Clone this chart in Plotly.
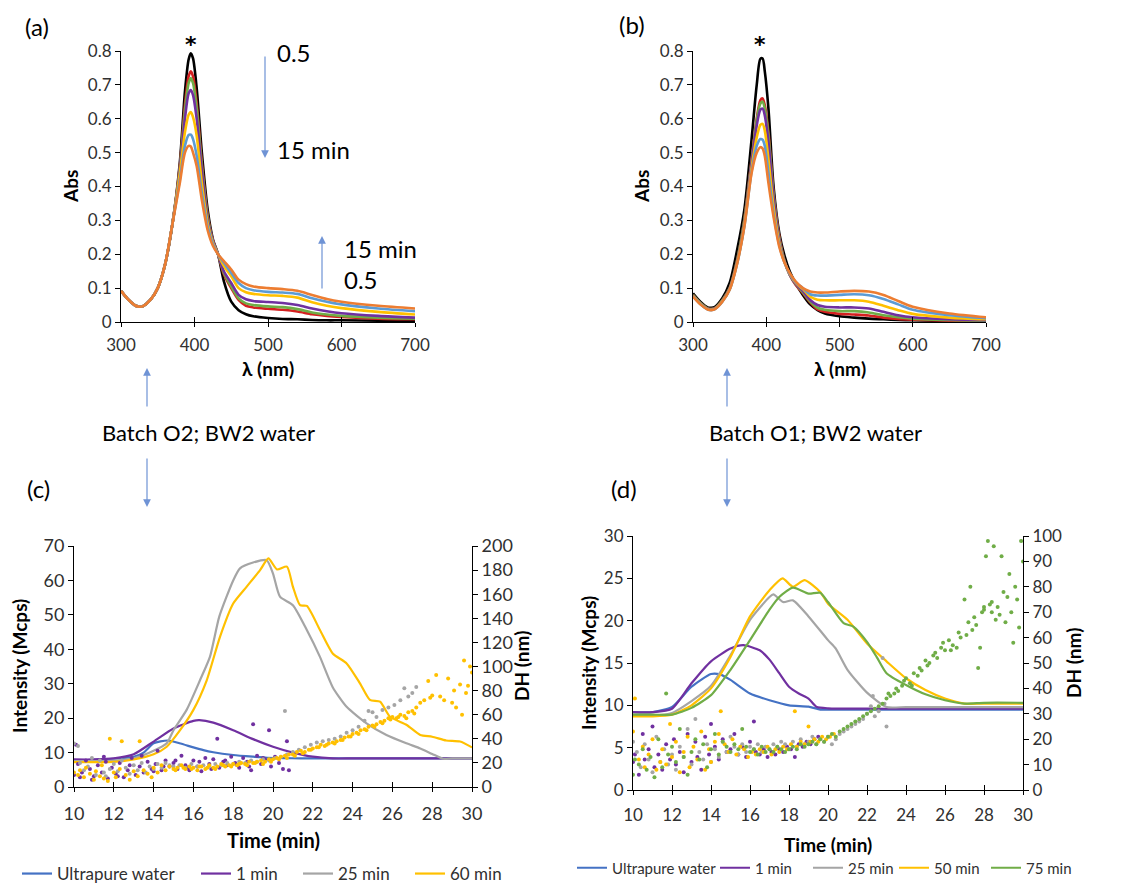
import plotly.graph_objects as go

W, H = 1129, 884
FONT = "Lato, 'Open Sans', sans-serif"

# ---------------- (a) / (b) UV-Vis spectra ----------------
wl = [300, 310, 320, 325, 330, 340, 350, 360, 370, 380, 387, 392, 395, 398, 403, 410,
      418, 425, 432, 440, 450, 460, 470, 480, 500, 520, 540, 560, 580, 600, 650, 700]

spec_colors = ["#000000", "#D42020", "#70AD47", "#7030A0", "#FFC000", "#5B9BD5", "#ED7D31"]

a_left = [.092, .066, .048, .045, .047, .065, .10, .17, .29]
abs_a = [
    a_left + [.47, .68, .775, .793, .778, .69, .50, .33, .245, .20, .12, .06,
              .035, .023, .017, .012, .009, .008, .006, .005, .005, .004, .003],
    a_left + [.46, .64, .725, .74, .725, .645, .47, .315, .24, .20, .14, .10,
              .065, .048, .043, .039, .036, .031, .023, .018, .015, .010, .008],
    a_left + [.455, .625, .705, .72, .705, .63, .46, .31, .24, .20, .145, .105,
              .07, .055, .05, .046, .044, .038, .028, .022, .018, .013, .010],
    a_left + [.45, .60, .675, .685, .67, .60, .445, .30, .24, .20, .15, .115,
              .08, .067, .062, .059, .056, .050, .040, .032, .026, .018, .013],
    a_left + [.44, .56, .612, .62, .605, .55, .41, .29, .235, .20, .165, .135,
              .10, .088, .083, .079, .077, .072, .058, .048, .041, .030, .022],
    a_left + [.42, .52, .552, .553, .54, .49, .38, .28, .23, .20, .175, .145,
              .115, .10, .094, .089, .087, .083, .070, .060, .052, .040, .032],
    a_left + [.41, .50, .52, .518, .50, .46, .36, .27, .225, .20, .18, .155,
              .125, .112, .105, .100, .097, .092, .080, .068, .060, .048, .040],
]

abs_b = [
    [.085, .06, .043, .042, .045, .07, .115, .21, .33, .54, .70, .777, .778, .74, .63, .40,
     .26, .195, .15, .115, .08, .052, .035, .025, .017, .013, .010, .008, .006, .005, .003, .002],
    [.08, .056, .04, .038, .041, .064, .10, .18, .30, .48, .60, .655, .66, .64, .56, .38,
     .25, .18, .14, .11, .085, .058, .037, .03, .024, .022, .019, .013, .009, .007, .004, .003],
    [.08, .056, .04, .038, .041, .064, .10, .18, .30, .475, .595, .645, .65, .63, .55, .375,
     .245, .18, .14, .112, .088, .06, .042, .036, .032, .032, .028, .02, .014, .010, .006, .004],
    [.078, .055, .039, .037, .04, .062, .098, .175, .29, .47, .58, .627, .63, .61, .53, .365,
     .24, .178, .14, .113, .092, .065, .05, .045, .043, .043, .040, .030, .02, .014, .008, .005],
    [.077, .054, .038, .036, .039, .061, .096, .172, .285, .455, .545, .582, .585, .565, .48, .34,
     .232, .176, .142, .116, .097, .075, .066, .064, .064, .064, .06, .048, .035, .024, .013, .008],
    [.076, .053, .037, .035, .038, .06, .095, .17, .28, .445, .52, .54, .538, .52, .44, .32,
     .225, .175, .143, .118, .10, .082, .078, .078, .080, .082, .079, .068, .052, .036, .02, .011],
    [.075, .052, .037, .035, .038, .06, .095, .17, .28, .44, .50, .516, .512, .49, .41, .31,
     .22, .175, .145, .12, .10, .09, .087, .087, .09, .092, .09, .08, .062, .045, .025, .014],
]

# ---------------- (c) AF4 intensity (lines) ----------------
c_names = ["Ultrapure water", "1 min", "25 min", "60 min"]
c_colors = ["#4472C4", "#7030A0", "#A5A5A5", "#FFC000"]
c_t = [
    [10, 11, 12, 13, 13.5, 14, 14.7, 15.3, 16, 16.5, 17, 18, 19, 19.7, 20.5, 21.4, 22, 24, 26, 28, 30],
    [10, 11, 12, 13, 14, 15, 16, 16.3, 17, 18, 19, 20, 21, 22, 23, 24, 26, 28, 30],
    [10, 11, 12, 13, 14, 14.66, 15, 15.66, 16.33, 16.83, 17.3, 18, 18.34, 19, 19.68, 20, 20.35, 21,
     21.7, 22.36, 23, 23.7, 24.7, 25.7, 26.7, 27.4, 28, 28.55, 29, 30],
    [10, 11, 12, 13, 14, 14.66, 15.33, 16, 16.67, 17.34, 18, 18.68, 19.35, 19.77, 20.2, 20.7, 21,
     21.36, 21.7, 22.36, 23, 23.7, 24.37, 24.87, 25.38, 25.88, 26.72, 27.4, 28, 28.7, 29.4, 30],
]
c_int = [
    [7.8, 7.9, 8.2, 8.8, 10, 12.7, 13.5, 12.7, 11.5, 10.7, 10.1, 9.3, 8.8, 8.5, 8.4, 8.3, 8.3, 8.3, 8.3, 8.3, 8.3],
    [8.0, 8.0, 8.3, 9.5, 13.2, 17, 19.2, 19.4, 18.7, 16.5, 13.9, 11.7, 10, 8.8, 8.3, 8.3, 8.3, 8.3, 8.3],
    [7.5, 7.5, 7.6, 8.3, 10.5, 12.7, 16.5, 22.4, 31, 37.8, 49.5, 60, 63.5, 65.2, 65.9, 62, 55.3, 52.8,
     45.6, 37.8, 29, 23.3, 18.5, 15.1, 12.7, 11.2, 9.6, 8.2, 8.3, 8.3],
    [7.2, 7.2, 7.3, 8, 9.5, 11.7, 16.5, 22.4, 31, 43.7, 53.3, 58.2, 63, 66.4, 63.2, 64, 58.2,
     52.8, 52.6, 45.6, 38.8, 35.9, 30.1, 25.3, 24.8, 20.4, 18, 15.1, 14.6, 13.5, 13.2, 11.5],
]

# (c) DH scatter (nm)
c_dh_purple_t = [10.0, 10.1, 10.3, 10.4, 10.6, 10.8, 11.0, 11.2, 11.4, 11.5, 11.7, 11.9, 12.1, 12.3, 12.5, 12.7,
                 12.9, 13.1, 13.3, 13.5, 13.7, 13.9, 14.1, 14.2, 14.4, 14.6, 14.8, 15.0, 15.2, 15.4, 15.6, 15.8,
                 16.0, 16.2, 16.4, 16.6, 16.8, 17.0, 17.2, 17.3, 17.5, 17.7, 17.9, 18.1, 18.3, 18.5, 18.7, 18.9,
                 19.0, 19.2, 19.4, 19.6, 19.8, 19.9, 20.1, 20.3, 20.5, 20.7, 20.8,
                 10.2, 10.9, 11.6, 12.2, 12.8, 13.4, 14.0, 14.5, 15.1, 15.7, 16.3, 16.9, 17.6, 18.2, 18.8, 19.5]
c_dh_purple = [10, 35, 8, 12, 22, 15, 9, 18, 12, 25, 7, 16, 11, 20, 8, 14,
               24, 10, 17, 12, 21, 15, 19, 30, 14, 22, 17, 20, 15, 26, 18, 14,
               22, 17, 13, 24, 19, 23, 40, 16, 21, 18, 25, 20, 16, 24, 21, 14,
               52, 26, 19, 23, 47, 17, 25, 20, 15, 38, 14,
               19, 6, 21, 9, 18, 26, 13, 17, 22, 16, 21, 15, 22, 18, 17, 24]
c_dh_gray_t = [10.0, 10.2, 10.3, 10.5, 10.7, 10.9, 11.1, 11.3, 11.5, 11.6, 11.8, 12.0, 12.2, 12.4, 12.6, 12.8,
               13.0, 13.2, 13.4, 13.6, 13.8, 14.0, 14.2, 14.4, 14.6, 14.8, 15.0, 15.3, 15.6, 15.9, 16.2, 16.5,
               16.8, 17.1, 17.4, 17.7, 18.0, 18.3, 18.6, 18.9, 19.2, 19.5, 19.8, 20.1, 20.4, 20.6, 20.7, 21.0,
               21.3, 21.6, 21.9, 22.2, 22.5, 22.8, 23.1, 23.4, 23.7, 24.0, 24.3, 24.6, 24.8, 25.0, 25.2, 25.5,
               25.8, 26.1, 26.4, 26.6, 26.8, 27.0, 27.2]
c_dh_gray = [36, 34, 20, 14, 17, 24, 10, 22, 12, 9, 15, 19, 13, 22, 16, 11,
             18, 14, 20, 12, 17, 15, 19, 16, 20, 18, 17, 18, 16, 19, 17, 18,
             17, 19, 18, 20, 19, 21, 20, 22, 21, 23, 22, 24, 25, 63, 27, 29,
             31, 33, 35, 37, 38, 39, 40, 42, 45, 47, 50, 55, 63, 62, 58, 64,
             66, 68, 72, 82, 75, 78, 83]
c_dh_gold_t = [10.0, 10.2, 10.3, 10.5, 10.6, 10.8, 11.0, 11.1, 11.3, 11.4, 11.5, 11.7, 11.8, 12.0, 12.1, 12.3,
               12.4, 12.6, 12.8, 13.0, 13.2, 13.3, 13.5, 13.7, 13.9, 14.0, 14.2, 14.4, 14.6, 14.8, 15.0, 15.2,
               15.4, 15.6, 15.8, 16.0, 16.2, 16.4, 16.6, 16.8, 17.0, 17.2, 17.4, 17.6, 17.8, 18.0, 18.2, 18.4,
               18.6, 18.8, 19.0, 19.2, 19.4, 19.6, 19.8, 20.0, 20.2, 20.4, 20.6, 20.8, 21.0, 21.2, 21.4, 21.6,
               21.8, 22.0, 22.2, 22.4, 22.6, 22.8, 23.0, 23.2, 23.4, 23.6, 23.8, 24.0, 24.2, 24.4, 24.6, 24.8,
               25.0, 25.2, 25.4, 25.6, 25.8, 26.0, 26.2, 26.4, 26.6, 26.8, 27.0, 27.2, 27.4, 27.6, 27.8, 27.9,
               28.0, 28.2, 28.4, 28.6, 28.8, 29.0, 29.1, 29.2, 29.4, 29.5, 29.6, 29.7, 29.8, 29.9, 30.0,
               15.1, 15.5, 15.9, 16.3, 16.7, 17.1, 17.5, 17.9, 18.3, 18.7, 19.1, 19.5, 19.9, 20.3, 20.7, 21.1,
               21.5, 21.9, 22.3, 22.7, 23.1, 23.5, 23.9, 24.3, 24.7, 25.1, 25.5, 25.9, 26.3, 26.7, 27.1]
c_dh_gold = [12, 10, 14, 8, 16, 11, 6, 13, 9, 18, 7, 5, 40, 12, 8, 15,
             38, 10, 6, 13, 9, 38, 14, 11, 8, 16, 12, 18, 14, 17, 15, 16,
             18, 15, 17, 16, 14, 17, 15, 18, 16, 17, 19, 17, 18, 19, 18, 20,
             19, 21, 20, 21, 22, 21, 23, 23, 24, 25, 26, 27, 27, 29, 30, 29,
             31, 32, 33, 35, 34, 36, 37, 38, 39, 41, 42, 44, 45, 47, 48, 50,
             51, 52, 54, 55, 57, 58, 57, 60, 59, 62, 63, 66, 70, 72, 88, 74,
             76, 93, 75, 72, 90, 70, 80, 66, 85, 60, 105, 78, 84, 100, 95,
             14, 16, 15, 17, 16, 15, 18, 17, 19, 18, 20, 19, 21, 23, 24, 26,
             28, 31, 33, 35, 36, 39, 42, 44, 47, 50, 53, 56, 58, 57, 61]

# ---------------- (d) AF4 intensity (lines) ----------------
d_names = ["Ultrapure water", "1 min", "25 min", "50 min", "75 min"]
d_colors = ["#4472C4", "#7030A0", "#A5A5A5", "#FFC000", "#70AD47"]
d_t = [
    [10, 11, 12, 13, 14, 14.46, 15, 16, 17, 18, 19, 19.6, 20, 22, 24, 26, 28, 30],
    [10, 11, 12, 13, 14, 15, 15.66, 16.5, 17, 17.5, 18, 18.5, 19, 19.4, 20, 22, 24, 26, 28, 30],
    [10, 11, 12, 13, 14, 15, 16, 17, 17.2, 17.7, 18.2, 19, 20, 20.4, 21, 22, 23, 24, 26, 28, 30],
    [10, 11, 12, 13, 14, 15, 16, 17, 17.67, 18.2, 18.8, 19.6, 20, 21, 22, 23, 24, 25, 26, 27, 28, 30],
    [10, 11, 12, 13, 14, 15, 16, 17, 17.5, 18.2, 19, 19.6, 20, 20.8, 21.3, 22, 22.5, 23, 24, 25, 26, 27, 28, 30],
]
d_int = [
    [9.2, 9.2, 9.8, 12.2, 13.7, 13.66, 13, 11.4, 10.6, 10.0, 9.84, 9.5, 9.5, 9.5, 9.5, 9.5, 9.5, 9.5],
    [9.2, 9.2, 9.6, 12.6, 15.2, 16.7, 17.1, 16.5, 15.4, 13.8, 12.2, 11.4, 10.8, 9.84, 9.65, 9.6, 9.6, 9.6, 9.6, 9.6],
    [8.8, 8.8, 9.1, 10.5, 12.3, 15.9, 20.1, 22.8, 23.1, 22.2, 22.4, 20.5, 17.7, 16.7, 14.2, 11.5, 9.8, 9.8, 9.8, 9.8, 9.8],
    [8.7, 8.7, 8.9, 10, 12, 15.7, 20.5, 23.6, 25, 24, 24.8, 23.4, 22, 20.1, 17.3, 15.2, 13.2, 11.8, 10.8, 10.2, 10.2, 10.2],
    [8.9, 8.9, 8.9, 9.7, 11.2, 14.2, 17.7, 21.3, 22.8, 23.9, 23.2, 23.3, 22.2, 19.7, 19.3, 17.5, 15.7, 13.8,
     12.4, 11.3, 10.6, 10.2, 10.3, 10.3],
]

# (d) DH scatter (nm)
d_dh_purple_t = [10.0, 10.1, 10.3, 10.5, 10.6, 10.8, 11.0, 11.1, 11.3, 11.5, 11.7, 11.9, 12.1, 12.2, 12.4, 12.6,
                 12.8, 13.0, 13.2, 13.3, 13.5, 13.7, 13.9, 14.0, 14.2, 14.4, 14.6, 14.8, 15.0, 15.2, 15.4, 15.6,
                 15.8, 16.0, 16.2, 16.3, 16.5, 16.7, 16.9, 17.1, 17.3, 17.5, 17.7, 17.9, 18.1, 18.3, 18.5, 18.7,
                 18.9, 19.1, 19.3, 19.5]
d_dh_purple = [11, 14, 6, 22, 12, 16, 25, 9, 14, 8, 18, 12, 20, 10, 15, 7,
               22, 11, 19, 13, 8, 21, 14, 26, 17, 12, 20, 15, 16, 22, 14, 17,
               13, 19, 27, 15, 14, 16, 13, 15, 14, 16, 15, 17, 16, 13, 18, 17,
               19, 18, 20, 21]
d_dh_gray_t = [10.0, 10.2, 10.4, 10.6, 10.8, 11.0, 11.2, 11.4, 11.6, 11.8, 12.0, 12.2, 12.4, 12.6, 12.8, 13.0,
               13.2, 13.4, 13.6, 13.8, 14.0, 14.2, 14.4, 14.6, 14.8, 15.0, 15.2, 15.4, 15.6, 15.8, 16.0, 16.2,
               16.4, 16.6, 16.8, 17.0, 17.2, 17.4, 17.6, 17.8, 18.0, 18.2, 18.4, 18.6, 18.8, 19.0, 19.2, 19.4,
               19.6, 19.8, 20.0, 20.2, 20.4, 20.6, 20.8, 21.0, 21.2, 21.4, 21.6, 21.8, 22.0, 22.2, 22.3, 22.4,
               22.6, 22.8, 22.9, 23.0]
d_dh_gray = [19, 15, 9, 18, 12, 7, 21, 11, 16, 10, 14, 8, 17, 13, 24, 10,
             28, 15, 12, 18, 11, 16, 13, 19, 15, 21, 17, 14, 18, 15, 17, 16,
             18, 15, 17, 16, 18, 17, 19, 18, 16, 19, 17, 20, 18, 19, 21, 18,
             20, 19, 21, 18, 20, 22, 23, 24, 25, 26, 27, 28, 30, 33, 37, 29,
             31, 52, 34, 25]
d_dh_gold_t = [10.0, 10.1, 10.3, 10.5, 10.6, 10.8, 11.0, 11.2, 11.4, 11.5, 11.7, 11.9, 12.0, 12.2, 12.4, 12.6,
               12.8, 12.9, 13.1, 13.3, 13.5, 13.7, 13.9, 14.0, 14.2, 14.4, 14.5, 14.7, 14.9, 15.1, 15.3, 15.5,
               15.7, 15.9, 16.1, 16.3, 16.5, 16.7, 16.9, 17.1, 17.3, 17.5, 17.7, 17.9, 18.1, 18.3, 18.4, 18.6,
               18.8, 19.0, 19.1, 19.3, 19.5, 19.7, 19.9, 20.1, 20.3]
d_dh_gold = [23, 36, 12, 17, 9, 14, 20, 8, 11, 16, 10, 26, 13, 19, 7, 15,
             21, 9, 17, 12, 23, 8, 16, 11, 19, 22, 31, 18, 15, 20, 14, 17,
             16, 13, 15, 14, 16, 15, 17, 14, 16, 15, 17, 16, 18, 31, 17, 19,
             18, 25, 19, 20, 19, 21, 20, 21, 22]
d_dh_green_t = [10.0, 10.1, 10.3, 10.5, 10.7, 10.9, 11.1, 11.3, 11.5, 11.7, 11.8, 12.0, 12.2, 12.4, 12.6, 12.8,
                13.0, 13.2, 13.4, 13.6, 13.8, 14.0, 14.2, 14.4, 14.6, 14.8, 15.0, 15.2, 15.4, 15.6, 15.8, 16.0,
                16.2, 16.4, 16.6, 16.8, 17.0, 17.2, 17.4, 17.6, 17.8, 18.0, 18.2, 18.4, 18.6, 18.8, 19.0, 19.2,
                19.4, 19.6, 19.8, 20.0, 20.2, 20.4, 20.6, 20.8, 21.0, 21.2, 21.4, 21.6, 21.8, 22.0, 22.2, 22.4,
                22.6, 22.8, 23.0, 23.2, 23.4, 23.6, 23.8, 24.0, 24.2, 24.4, 24.6, 24.8, 25.0, 25.2, 25.4, 25.6,
                25.8, 26.0, 26.2, 26.4, 26.6, 26.8, 27.0, 27.1, 27.3, 27.4, 27.6, 27.7, 27.8, 27.9, 28.0, 28.1,
                28.2, 28.3, 28.4, 28.5, 28.6, 28.7, 28.9, 29.0, 29.1, 29.2, 29.4, 29.5, 29.6, 29.7, 29.8, 29.9,
                30.0,
                23.1, 23.5, 23.9, 24.3, 24.7, 25.1, 25.5, 25.9, 26.3, 26.7, 27.2, 27.5, 28.0, 28.4, 28.8, 29.3]
d_dh_green = [6, 12, 10, 16, 8, 13, 5, 20, 9, 38, 14, 17, 11, 24, 13, 6,
              15, 20, 12, 18, 9, 16, 22, 14, 19, 17, 15, 18, 16, 24, 17, 15,
              16, 14, 17, 15, 16, 15, 17, 16, 15, 16, 17, 16, 18, 17, 18, 19,
              18, 20, 19, 21, 22, 21, 23, 24, 25, 26, 27, 28, 29, 30, 31, 32,
              33, 34, 36, 37, 38, 39, 41, 44, 42, 46, 45, 47, 51, 50, 53, 52,
              56, 55, 59, 57, 56, 60, 75, 61, 80, 63, 65, 48, 56, 70, 72, 92,
              98, 73, 70, 96, 67, 72, 92, 78, 66, 76, 70, 58, 80, 75, 64, 98,
              90,
              38, 40, 43, 41, 48, 49, 54, 58, 55, 62, 66, 68, 71, 74, 69, 85]

fig = go.Figure()

for i in range(7):
    fig.add_trace(go.Scatter(x=wl, y=abs_a[i], mode="lines", xaxis="x", yaxis="y", showlegend=False,
                             line=dict(color=spec_colors[i], width=2.6, shape="spline", smoothing=0.8)))
for i in range(7):
    fig.add_trace(go.Scatter(x=wl, y=abs_b[i], mode="lines", xaxis="x2", yaxis="y2", showlegend=False,
                             line=dict(color=spec_colors[i], width=2.6, shape="spline", smoothing=0.8)))

for tt, vv, col in [(c_dh_purple_t, c_dh_purple, "#7030A0"), (c_dh_gray_t, c_dh_gray, "#A5A5A5"),
                    (c_dh_gold_t, c_dh_gold, "#FFC000")]:
    fig.add_trace(go.Scatter(x=tt, y=vv, mode="markers", xaxis="x3", yaxis="y4", showlegend=False,
                             marker=dict(color=col, size=4)))
for i in range(4):
    fig.add_trace(go.Scatter(x=c_t[i], y=c_int[i], mode="lines", xaxis="x3", yaxis="y3", name=c_names[i],
                             legend="legend" if i == 0 else "legend%d" % (i + 1),
                             line=dict(color=c_colors[i], width=2.2, shape="spline", smoothing=0.6)))

for tt, vv, col in [(d_dh_purple_t, d_dh_purple, "#7030A0"), (d_dh_gray_t, d_dh_gray, "#A5A5A5"),
                    (d_dh_gold_t, d_dh_gold, "#FFC000"), (d_dh_green_t, d_dh_green, "#70AD47")]:
    fig.add_trace(go.Scatter(x=tt, y=vv, mode="markers", xaxis="x4", yaxis="y6", showlegend=False,
                             marker=dict(color=col, size=4)))
for i in range(5):
    fig.add_trace(go.Scatter(x=d_t[i], y=d_int[i], mode="lines", xaxis="x4", yaxis="y5", name=d_names[i],
                             legend="legend%d" % (i + 5),
                             line=dict(color=d_colors[i], width=2.2, shape="spline", smoothing=0.6)))


def fx(p):
    return p / W


def fy(p):
    return 1 - p / H


TICKC = "#303030"
axbase = dict(showline=True, linecolor="black", linewidth=1, ticks="outside", ticklen=5,
              tickcolor="black", showgrid=False, zeroline=False, fixedrange=True, automargin=False)
crossbase = dict(showline=False, ticks="inside", ticklen=5, tickcolor="black", showticklabels=False,
                 showgrid=False, zeroline=False, fixedrange=True, automargin=False)

layout = dict(
    width=W, height=H, margin=dict(l=0, r=0, t=0, b=0, autoexpand=False),
    paper_bgcolor="white", plot_bgcolor="white",
    font=dict(family=FONT, color=TICKC),
    xaxis=dict(axbase, domain=[fx(121), fx(415)], anchor="y", range=[300, 700], dtick=100,
               ticklen=4, tickfont=dict(size=17), ticklabelstandoff=4),
    yaxis=dict(axbase, domain=[fy(322), fy(51)], anchor="x", range=[0, 0.8], dtick=0.1,
               tickfont=dict(size=17)),
    xaxis2=dict(axbase, domain=[fx(693), fx(986)], anchor="y2", range=[300, 700], dtick=100,
                ticklen=4, tickfont=dict(size=17), ticklabelstandoff=4),
    yaxis2=dict(axbase, domain=[fy(322), fy(51)], anchor="x2", range=[0, 0.8], dtick=0.1,
                tickfont=dict(size=17)),
    xaxis3=dict(axbase, domain=[fx(74), fx(472)], anchor="y3", range=[10, 30], dtick=2,
                ticklen=4, tickfont=dict(size=18), ticklabelstandoff=6),
    yaxis3=dict(axbase, domain=[fy(787), fy(546)], anchor="x3", range=[0, 70], dtick=10,
                tickfont=dict(size=18)),
    yaxis4=dict(axbase, overlaying="y3", anchor="x3", side="right", range=[0, 200], dtick=20,
                tickfont=dict(size=18)),
    xaxis4=dict(axbase, domain=[fx(633), fx(1023)], anchor="y5", range=[10, 30], dtick=2,
                ticklen=4, tickfont=dict(size=17), ticklabelstandoff=6),
    yaxis5=dict(axbase, domain=[fy(790), fy(536)], anchor="x4", range=[0, 30], dtick=5,
                tickfont=dict(size=17)),
    yaxis6=dict(axbase, overlaying="y5", anchor="x4", side="right", range=[0, 100], dtick=10,
                tickfont=dict(size=17)),
    # overlay axes that draw the inner half of Excel-style crossing tick marks
    xaxis5=dict(crossbase, overlaying="x", anchor="y", range=[300, 700], dtick=100),
    xaxis6=dict(crossbase, overlaying="x2", anchor="y2", range=[300, 700], dtick=100),
    xaxis7=dict(crossbase, overlaying="x3", anchor="y3", range=[10, 30], dtick=2),
    xaxis8=dict(crossbase, overlaying="x4", anchor="y5", range=[10, 30], dtick=2),
)

# legends: one per entry for exact placement
leg_c_x = [28, 207, 309, 421]
leg_d_x = [583, 726, 819, 905, 997]
for k, xp in enumerate(leg_c_x + leg_d_x):
    key = "legend" if k == 0 else "legend%d" % (k + 1)
    is_c = k < 4
    layout[key] = dict(x=fx(xp - 11), y=fy(874 if is_c else 868), xanchor="left", yanchor="middle",
                       orientation="h", bgcolor="rgba(0,0,0,0)", borderwidth=0,
                       font=dict(size=17 if is_c else 15, family=FONT, color=TICKC), itemwidth=30)

fig.update_layout(**layout)

# dummy traces so the overlay tick axes get drawn
for xa, ya, xr in [("x5", "y", 300), ("x6", "y2", 300), ("x7", "y3", 10), ("x8", "y5", 10)]:
    fig.add_trace(go.Scatter(x=[xr], y=[0], xaxis=xa, yaxis=ya, mode="markers", showlegend=False,
                             marker=dict(opacity=0), hoverinfo="skip"))

ann = []


def txt(x, y, s, size, bold=False, angle=0, xanchor="center", color="black", family=FONT):
    ann.append(dict(x=fx(x), y=fy(y), xref="paper", yref="paper", text=("<b>%s</b>" % s) if bold else s,
                    showarrow=False, font=dict(size=size, family=family, color=color), textangle=angle,
                    xanchor=xanchor, yanchor="middle", borderpad=0))


def arrow(x, y_head, y_tail):
    ann.append(dict(x=fx(x), y=fy(y_head), xref="paper", yref="paper", text="", showarrow=True,
                    ax=0, ay=y_tail - y_head, arrowhead=2, arrowsize=1.3, arrowwidth=1.2,
                    arrowcolor="#6F93D5", standoff=0, startstandoff=0))


txt(37, 26, "(a)", 24)
txt(632, 24, "(b)", 24)
txt(191, 44, "*", 22, bold=True, family="DejaVu Sans")
txt(760, 44, "*", 22, bold=True, family="DejaVu Sans")
txt(276, 52, "0.5", 24, xanchor="left")
txt(276, 149, "15 min", 24, xanchor="left")
txt(343, 248, "15 min", 24, xanchor="left")
txt(343, 279, "0.5", 24, xanchor="left")
arrow(265, 158, 55)
arrow(322, 236, 290)
txt(70, 187, "Abs", 19, bold=True, angle=-90)
txt(641, 187, "Abs", 19, bold=True, angle=-90)
txt(268, 368, "λ (nm)", 19, bold=True)
txt(840, 368, "λ (nm)", 19, bold=True)

arrow(147, 368, 408)
arrow(147, 507, 457)
arrow(727, 368, 408)
arrow(727, 507, 457)
txt(208, 432, "Batch O2; BW2 water", 22)
txt(815, 432, "Batch O1; BW2 water", 22)

txt(38, 488, "(c)", 24)
txt(624, 488, "(d)", 24)
txt(19, 666, "Intensity (Mcps)", 19, bold=True, angle=-90)
txt(521, 666, "DH (nm)", 19, bold=True, angle=-90)
txt(588, 663, "Intensity (Mcps)", 19, bold=True, angle=-90)
txt(1073, 663, "DH (nm)", 19, bold=True, angle=-90)
txt(273, 840, "Time (min)", 20, bold=True)
txt(828, 844, "Time (min)", 19, bold=True)

fig.update_layout(annotations=ann)
fig.write_html("out.html")
